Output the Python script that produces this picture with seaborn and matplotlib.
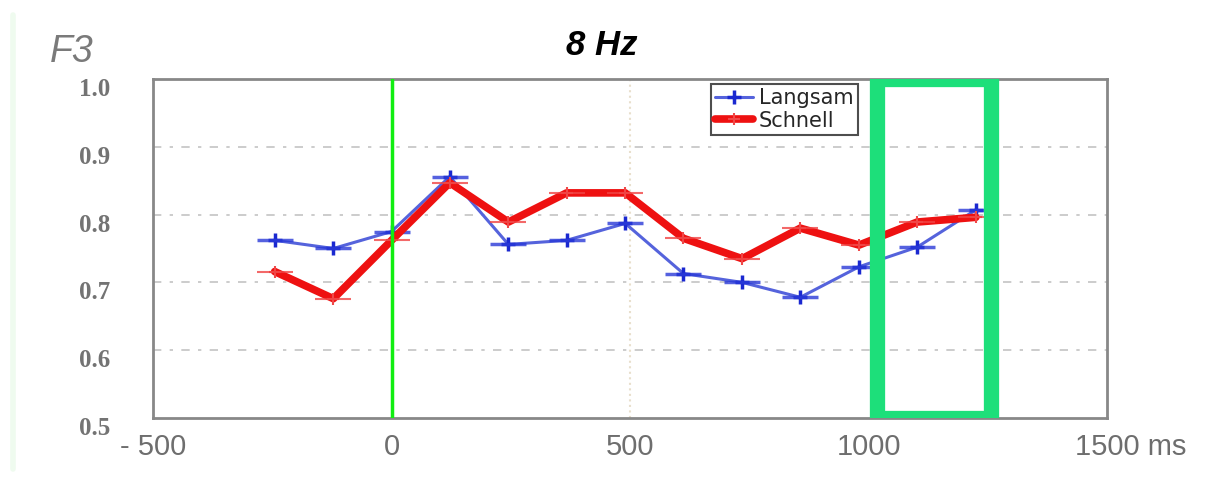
import pandas as pd
import matplotlib
matplotlib.use("Agg")
import matplotlib.pyplot as plt
import matplotlib.transforms as mtransforms
from matplotlib.patches import Rectangle
import seaborn as sns

# data
time_ms = [-245, -122, 0, 122, 245, 367, 490, 612, 735, 857, 980, 1102, 1225]
langsam = [0.762, 0.750, 0.775, 0.856, 0.756, 0.762, 0.787, 0.713, 0.700, 0.678, 0.723, 0.752, 0.807]
schnell = [0.716, 0.676, 0.762, 0.847, 0.789, 0.832, 0.832, 0.765, 0.735, 0.780, 0.755, 0.789, 0.796]
xticks = [-500, 0, 500, 1000, 1500]
xtick_labels = ['- 500', '0', '500', '1000', '1500 ms']
yticks = [0.5, 0.6, 0.7, 0.8, 0.9, 1.0]

sns.set_style("white")

fig = plt.figure(figsize=(12.08, 4.84), dpi=100)
ax = fig.add_axes([0.1267, 0.1364, 0.7897, 0.7004])

df_l = pd.DataFrame({'t': time_ms, 'v': langsam})
df_s = pd.DataFrame({'t': time_ms, 'v': schnell})

# grid
for y in [0.6, 0.7, 0.8, 0.9]:
    ax.axhline(y, color='#c4c4c4', lw=1.2, ls=(0, (5, 5, 2, 5)), zorder=0)
ax.axvline(500, color='#e8dfcc', lw=1.5, ls=':', zorder=0)

sns.lineplot(data=df_l, x='t', y='v', ax=ax, color='#5563dc', lw=2.2,
             marker='+', markersize=10, markeredgewidth=2.5,
             markeredgecolor='#1a28d0', label='Langsam', zorder=3)
sns.lineplot(data=df_s, x='t', y='v', ax=ax, color='#ee1111', lw=5.5,
             marker='+', markersize=9, markeredgewidth=1.5,
             markeredgecolor='#f04848', label='Schnell', zorder=4)
# horizontal bars through the points
ax.plot(time_ms, langsam, ls='none', marker='_', markersize=26, mew=2.5, color='#2a3ad8', alpha=0.8, zorder=3)
ax.plot(time_ms, schnell, ls='none', marker='_', markersize=26, mew=1.5, color='#f04444', alpha=0.8, zorder=4)

# stimulus onset and window
ax.axvline(0, color='#11ee11', lw=2.5, zorder=5)
ax.add_patch(Rectangle((1017, 0.5), 239, 0.5, fill=False, ec='#1ddf7a', lw=11, zorder=6))

ax.set_xlim(-500, 1500)
ax.set_ylim(0.5, 1.0)
ax.set_xticks(xticks)
ax.set_xticklabels(xtick_labels, fontsize=21, color='#6e6e6e', family='Liberation Sans')
ax.set_yticks(yticks)
ax.set_yticklabels([f'{v:.1f}' for v in yticks], fontsize=18, color='#737373',
                   family='Liberation Serif', fontweight='bold')
ax.tick_params(axis='x', length=0, pad=11)
ax.tick_params(axis='y', direction='in', length=4, width=1.2, color='#888888', pad=31)
down = mtransforms.ScaledTranslation(0, -8 / 100, fig.dpi_scale_trans)
for yl in ax.get_yticklabels():
    yl.set_transform(yl.get_transform() + down)
# keep "1500" centred on its tick, " ms" hangs to the right
xl = ax.get_xticklabels()[-1]
xl.set_transform(xl.get_transform() + mtransforms.ScaledTranslation(24 / 100, 0, fig.dpi_scale_trans))
ax.set_xlabel('')
ax.set_ylabel('')
for sp in ax.spines.values():
    sp.set_color('#888888')
    sp.set_linewidth(2)

leg = ax.legend(loc='upper left', bbox_to_anchor=(0.585, 0.985), fontsize=15,
                frameon=True, fancybox=False, borderpad=0.2, handlelength=1.8,
                handletextpad=0.3, labelspacing=0.12, borderaxespad=0)
leg.get_frame().set_edgecolor('#222222')
leg.get_frame().set_linewidth(1.5)
leg.set_zorder(10)

fig.text(0.498, 0.905, '8 Hz', fontsize=25, fontweight='bold', fontstyle='italic',
         ha='center', va='center', color='black', family='Liberation Sans')
fig.text(0.041, 0.893, 'F3', fontsize=27, fontstyle='italic', ha='left', va='center',
         color='#7a7a7a', family='Liberation Sans')
fig.add_artist(plt.Line2D([0.011, 0.011], [0.03, 0.97], color='#effbef', lw=4))

fig.savefig('out.png', dpi=100)
